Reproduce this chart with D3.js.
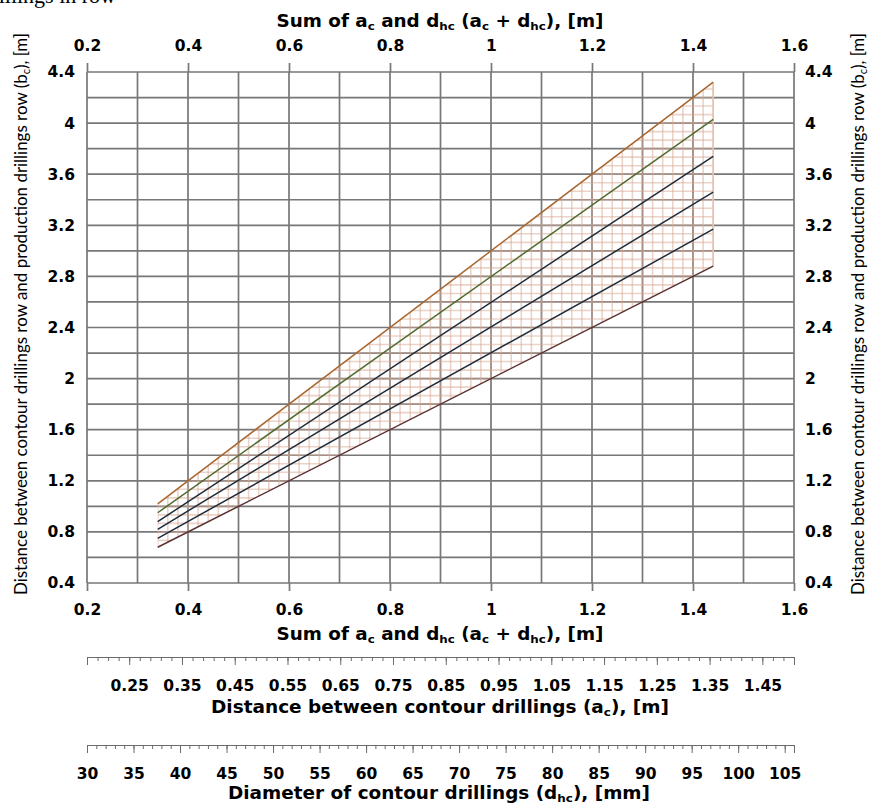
<!DOCTYPE html>
<html>
<head>
<meta charset="utf-8">
<script src="https://cdn.jsdelivr.net/npm/d3@7"></script>
<style>
  body { margin: 0; background: #fff; }
  svg { display: block; }
  text { font-family: "DejaVu Sans", Verdana, sans-serif; fill: #000; }
</style>
</head>
<body>
<div id="chart"></div>
<script>
// values
var sumExtent = [0.34, 1.44];                        // x (a_c + d_hc) where the lines start / end, [m]
var bcAtStart = [0.68, 0.75, 0.82, 0.88, 0.95, 1.02]; // b_c at x = 0.34
var bcAtEnd   = [2.88, 3.17, 3.46, 3.74, 4.03, 4.32]; // b_c at x = 1.44
var lineColors = ["#5a3030", "#1e2c3a", "#1e2c3a", "#1e2c3a", "#4f6b2e", "#a8662e"];

var sumTicks = [0.2, 0.4, 0.6, 0.8, 1, 1.2, 1.4, 1.6];
var bcTicks  = [0.4, 0.8, 1.2, 1.6, 2, 2.4, 2.8, 3.2, 3.6, 4, 4.4];
var acTicks  = [0.25, 0.35, 0.45, 0.55, 0.65, 0.75, 0.85, 0.95, 1.05, 1.15, 1.25, 1.35, 1.45];
var dhcTicks = [30, 35, 40, 45, 50, 55, 60, 65, 70, 75, 80, 85, 90, 95, 100, 105];

var W = 872, H = 806;
var svg = d3.select("#chart").append("svg").attr("width", W).attr("height", H);

var x = d3.scaleLinear().domain([0.2, 1.6]).range([87, 794]);
var y = d3.scaleLinear().domain([0.4, 4.4]).range([583, 72]);
var xAc = d3.scaleLinear().domain([0.17, 1.51]).range([87, 794]);
var xDhc = d3.scaleLinear().domain([30, 106]).range([87, 794]);

var gridColor = "#777";
var labelFont = "'DejaVu Sans', Verdana, sans-serif";

// cut-off line of the document text above the chart
svg.append("text").attr("x", 116).attr("y", 3).attr("text-anchor", "end")
    .style("font-family", "'Liberation Serif', serif").style("font-size", "22px")
    .text("drillings in row");

// grid
var grid = svg.append("g");
grid.selectAll(".vg").data(d3.range(0, 15).map(function(i){ return 0.2 + i * 0.1; }))
    .enter().append("line")
    .attr("x1", function(d){ return x(d); }).attr("x2", function(d){ return x(d); })
    .attr("y1", y(4.4)).attr("y2", y(0.4))
    .attr("stroke", gridColor).attr("stroke-width", 1.7);
grid.selectAll(".hg").data(d3.range(0, 21).map(function(i){ return 0.4 + i * 0.2; }))
    .enter().append("line")
    .attr("y1", function(d){ return y(d); }).attr("y2", function(d){ return y(d); })
    .attr("x1", x(0.2)).attr("x2", x(1.6))
    .attr("stroke", gridColor).attr("stroke-width", 1.7);

// hatched area between the lowest and the highest line
var area = [[sumExtent[0], bcAtStart[0]], [sumExtent[1], bcAtEnd[0]],
            [sumExtent[1], bcAtEnd[bcAtEnd.length - 1]], [sumExtent[0], bcAtStart[bcAtStart.length - 1]]];
svg.append("clipPath").attr("id", "hatchClip")
    .append("path")
    .attr("d", "M" + area.map(function(p){ return x(p[0]) + "," + y(p[1]); }).join("L") + "Z");

var hatch = svg.append("g").attr("clip-path", "url(#hatchClip)");
var hx = d3.range(0, 56).map(function(i){ return sumExtent[0] + i * 0.02; });
var hy = d3.range(0, 62).map(function(i){ return 0.4 + i * 0.2 / 3; });
hatch.selectAll(".hx").data(hx).enter().append("line")
    .attr("x1", function(d){ return x(d); }).attr("x2", function(d){ return x(d); })
    .attr("y1", y(4.4)).attr("y2", y(0.4))
    .attr("stroke", "#d8a894").attr("stroke-width", 1.6).attr("opacity", 0.5);
hatch.selectAll(".hy").data(hy).enter().append("line")
    .attr("y1", function(d){ return y(d); }).attr("y2", function(d){ return y(d); })
    .attr("x1", x(0.2)).attr("x2", x(1.6))
    .attr("stroke", "#d8a894").attr("stroke-width", 1.6).attr("opacity", 0.5);
// right edge of the hatch
svg.append("line")
    .attr("x1", x(sumExtent[1])).attr("x2", x(sumExtent[1]))
    .attr("y1", y(bcAtEnd[0])).attr("y2", y(bcAtEnd[bcAtEnd.length - 1]))
    .attr("stroke", "#ecc0ac").attr("stroke-width", 1.6);

// the six lines
var series = bcAtStart.map(function(v, i){
    return { color: lineColors[i], values: [[sumExtent[0], v], [sumExtent[1], bcAtEnd[i]]] };
});
var line = d3.line().x(function(d){ return x(d[0]); }).y(function(d){ return y(d[1]); });
svg.selectAll(".series").data(series).enter().append("path")
    .attr("fill", "none")
    .attr("stroke", function(d){ return d.color; })
    .attr("stroke-width", 1.5)
    .attr("d", function(d){ return line(d.values); });

// axes
function styleAxis(g) {
    g.select(".domain").remove();
    g.selectAll(".tick line").attr("stroke", gridColor).attr("stroke-width", 1.7);
    g.selectAll(".tick text").style("font-size", "15.5px").style("font-weight", "bold")
        .style("font-family", labelFont);
}

var fmt = function(d){ return String(d); };

svg.append("g").attr("transform", "translate(0," + y(0.4) + ")")
    .call(d3.axisBottom(x).tickValues(sumTicks).tickSize(8).tickPadding(13).tickFormat(fmt))
    .call(styleAxis);
svg.append("g").attr("transform", "translate(0," + y(4.4) + ")")
    .call(d3.axisTop(x).tickValues(sumTicks).tickSize(9).tickPadding(12).tickFormat(fmt))
    .call(styleAxis);
svg.append("g").attr("transform", "translate(" + x(0.2) + ",0)")
    .call(d3.axisLeft(y).tickValues(bcTicks).tickSize(0).tickPadding(12).tickFormat(fmt))
    .call(styleAxis);
svg.append("g").attr("transform", "translate(" + x(1.6) + ",0)")
    .call(d3.axisRight(y).tickValues(bcTicks).tickSize(0).tickPadding(11).tickFormat(fmt))
    .call(styleAxis);

// ruler axes below the chart
function ruler(scale, minor, major, yPos, labelFmt) {
    var g = svg.append("g").attr("transform", "translate(0," + yPos + ")");
    g.call(d3.axisBottom(scale).tickValues(minor).tickSizeInner(4).tickSizeOuter(8).tickFormat(""));
    g.select(".domain").attr("stroke", "#6b6b6b").attr("stroke-width", 1);
    g.selectAll(".tick line").attr("stroke", "#6b6b6b");
    var g2 = svg.append("g").attr("transform", "translate(0," + yPos + ")");
    g2.call(d3.axisBottom(scale).tickValues(major).tickSize(8).tickPadding(15).tickFormat(labelFmt));
    g2.select(".domain").remove();
    g2.selectAll(".tick line").attr("stroke", "#6b6b6b");
    g2.selectAll(".tick text").style("font-size", "15.5px").style("font-weight", "bold")
        .style("font-family", labelFont);
}
ruler(xAc, d3.range(0, 68).map(function(i){ return 0.17 + i * 0.02; }), acTicks, 657, d3.format(".2f"));
ruler(xDhc, d3.range(30, 107), dhcTicks, 745, fmt);

// titles
function subTitle(g, parts) {
    parts.forEach(function(p){
        var t = g.append("tspan").text(p[0]);
        if (p[1]) t.attr("baseline-shift", "-25%").style("font-size", "11px");
    });
}
function sumTitle(yPos) {
    var t = svg.append("text").attr("x", 440).attr("y", yPos).attr("text-anchor", "middle")
        .style("font-size", "17px").style("font-weight", "bold")
        .attr("textLength", 327).attr("lengthAdjust", "spacingAndGlyphs");
    subTitle(t, [["Sum of a"], ["c", 1], [" and d"], ["hc", 1], ["  (a"], ["c", 1], [" + d"], ["hc", 1], ["), [m]"]]);
}
sumTitle(27);
sumTitle(640);

var acTitle = svg.append("text").attr("x", 440).attr("y", 713).attr("text-anchor", "middle")
    .style("font-size", "17px").style("font-weight", "bold")
    .attr("textLength", 458).attr("lengthAdjust", "spacingAndGlyphs");
subTitle(acTitle, [["Distance between contour drillings (a"], ["c", 1], ["), [m]"]]);

var dhcTitle = svg.append("text").attr("x", 439).attr("y", 799).attr("text-anchor", "middle")
    .style("font-size", "17px").style("font-weight", "bold")
    .attr("textLength", 422).attr("lengthAdjust", "spacingAndGlyphs");
subTitle(dhcTitle, [["Diameter of contour drillings (d"], ["hc", 1], ["), [mm]"]]);

[27, 864].forEach(function(xPos){
    var t = svg.append("text").attr("transform", "translate(" + xPos + ",314) rotate(-90)")
        .attr("text-anchor", "middle").style("font-size", "17px")
        .style("font-family", "Lato, sans-serif")
        .attr("textLength", 562).attr("lengthAdjust", "spacingAndGlyphs");
    subTitle(t, [["Distance between contour drillings row and production drillings row (b"], ["c", 1], ["), [m]"]]);
});
</script>
</body>
</html>
